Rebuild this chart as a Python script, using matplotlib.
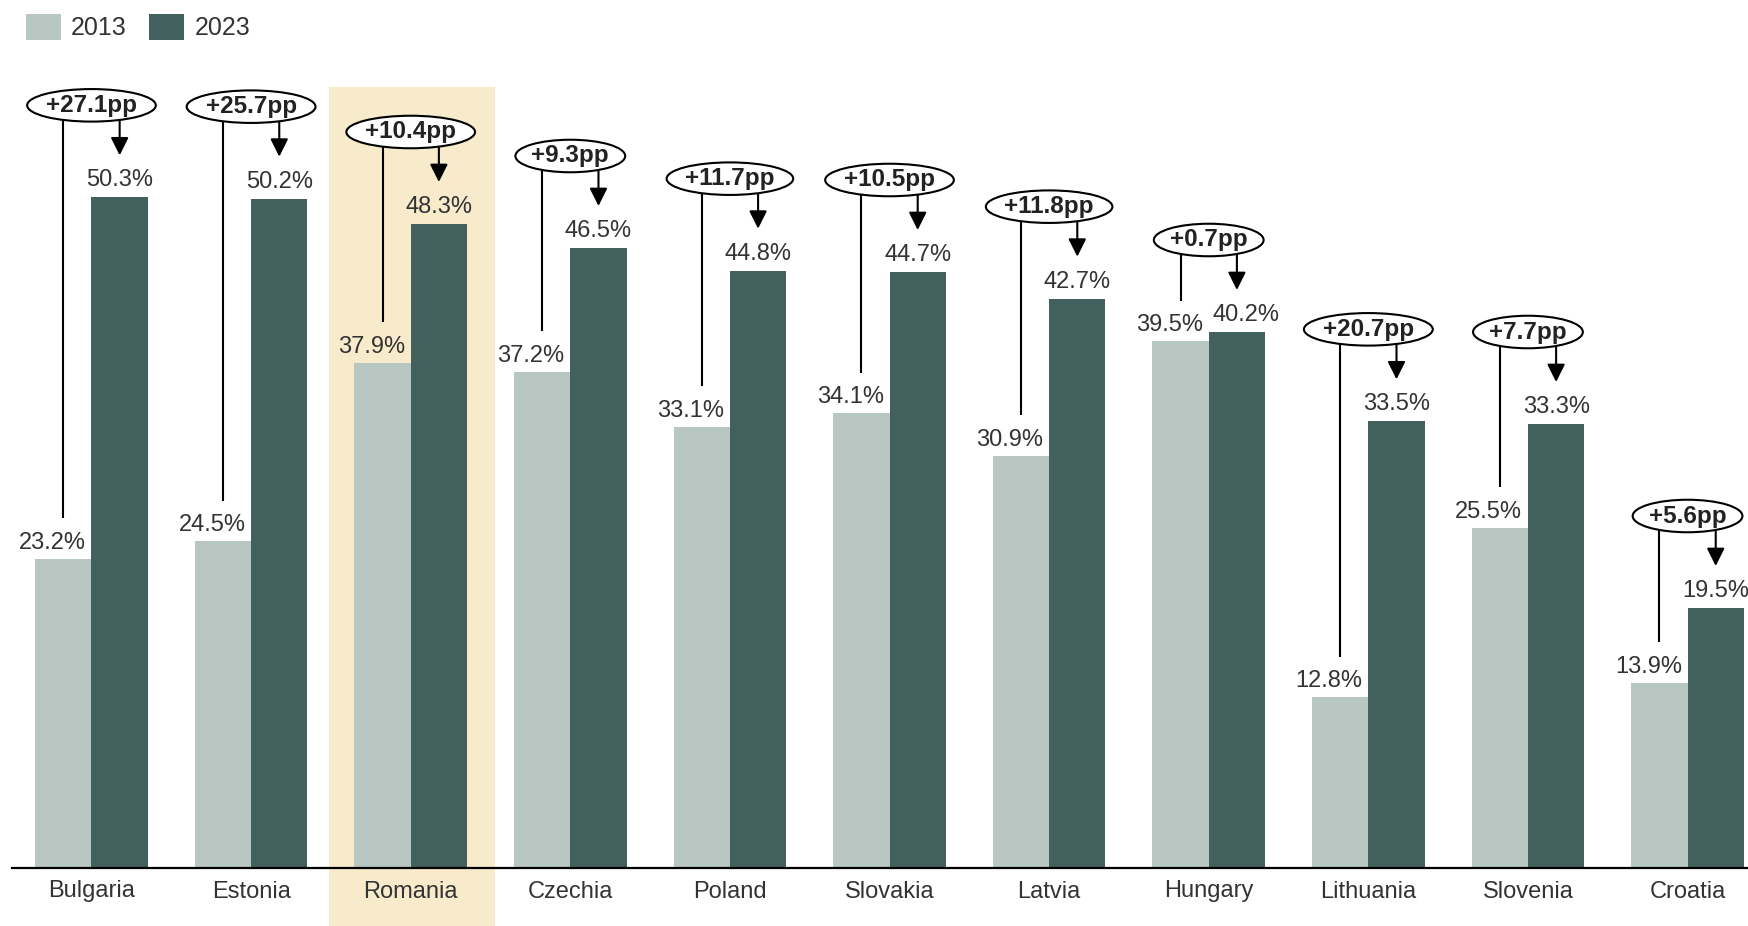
import matplotlib
matplotlib.use("Agg")
import matplotlib.pyplot as plt
from matplotlib.patches import Rectangle, Patch

plt.rcParams['font.family'] = ['Liberation Sans', 'DejaVu Sans']

countries = ['Bulgaria', 'Estonia', 'Romania', 'Czechia', 'Poland', 'Slovakia',
             'Latvia', 'Hungary', 'Lithuania', 'Slovenia', 'Croatia']
v2013 = [23.2, 24.5, 37.9, 37.2, 33.1, 34.1, 30.9, 39.5, 12.8, 25.5, 13.9]
v2023 = [50.3, 50.2, 48.3, 46.5, 44.8, 44.7, 42.7, 40.2, 33.5, 33.3, 19.5]
change_labels = ['+27.1pp', '+25.7pp', '+10.4pp', '+9.3pp', '+11.7pp', '+10.5pp',
                 '+11.8pp', '+0.7pp', '+20.7pp', '+7.7pp', '+5.6pp']
highlight = 'Romania'
series_names = ['2013', '2023']

C_LIGHT = '#b8c7c2'
C_DARK = '#42605e'
C_HL = '#f8ebcc'
C_TEXT = '#333333'
FS = 17

W, H = 1749, 926
fig = plt.figure(figsize=(W / 100, H / 100), dpi=100)
ax = fig.add_axes([12 / W, 58 / H, 1 - 12 / W, 868 / H])

bw = 0.353
x = list(range(len(countries)))
xl = [i - bw / 2 for i in x]
xd = [i + bw / 2 for i in x]
ax.bar(xl, v2013, width=bw, color=C_LIGHT, zorder=2)
ax.bar(xd, v2023, width=bw, color=C_DARK, zorder=2)

ax.set_xlim(-0.498, 10.385)
ax.set_ylim(0, 65.1)

# highlight band
hi = countries.index(highlight)
ax.add_patch(Rectangle((hi - 0.51, -5), 1.04, 58.6 + 5, facecolor=C_HL,
                       edgecolor='none', zorder=0, clip_on=False))

px = 1 / 1.3889  # points per pixel at dpi 100
for i in x:
    a, b = v2013[i], v2023[i]
    dx_dark = 9.5 if abs(b - a) < 3 else 0
    ax.annotate(f'{a:.1f}%', (xl[i], a), xytext=(-11 * px, 16 * px),
                textcoords='offset points', ha='center', va='center',
                fontsize=FS, color=C_TEXT, zorder=3)
    ax.annotate(f'{b:.1f}%', (xd[i], b), xytext=(dx_dark * px, 17 * px),
                textcoords='offset points', ha='center', va='center',
                fontsize=FS, color=C_TEXT, zorder=3)
    top = max(a, b)
    cy = top + 6.9
    ax.plot([xl[i], xl[i]], [a + 3.05, cy], color='black', lw=1.5, zorder=4,
            solid_capstyle='butt')
    ax.annotate('', xy=(xd[i], b + 3.15), xytext=(xd[i], cy),
                arrowprops=dict(arrowstyle='-|>,head_length=0.6,head_width=0.3',
                                mutation_scale=18, color='black', lw=1.5,
                                shrinkA=0, shrinkB=0), zorder=4)
    ax.text(i, cy, change_labels[i], ha='center', va='center', fontsize=FS + 0.5,
            fontweight='bold', color='#222222', zorder=6,
            bbox=dict(boxstyle='ellipse,pad=0', fc='white', ec='black', lw=1.5))

for s in ['top', 'right', 'left']:
    ax.spines[s].set_visible(False)
ax.spines['bottom'].set_linewidth(1.6)
ax.spines['bottom'].set_color('black')
ax.spines['bottom'].set_zorder(5)
ax.set_yticks([])
ax.set_xticks(x)
ax.set_xticklabels(countries, fontsize=FS, color=C_TEXT)
ax.tick_params(axis='x', length=0, pad=9)

handles = [Patch(facecolor=C_LIGHT, edgecolor='none'),
           Patch(facecolor=C_DARK, edgecolor='none')]
fig.legend(handles, series_names, loc='upper left', bbox_to_anchor=(18 / W, 1 - 6 / H),
           ncol=2, frameon=False, fontsize=FS + 1, handlelength=1.4, handleheight=1.25,
           handletextpad=0.42, columnspacing=0.9, labelcolor=C_TEXT,
           borderaxespad=0, borderpad=0.3)

fig.savefig('out.png', dpi=100)
